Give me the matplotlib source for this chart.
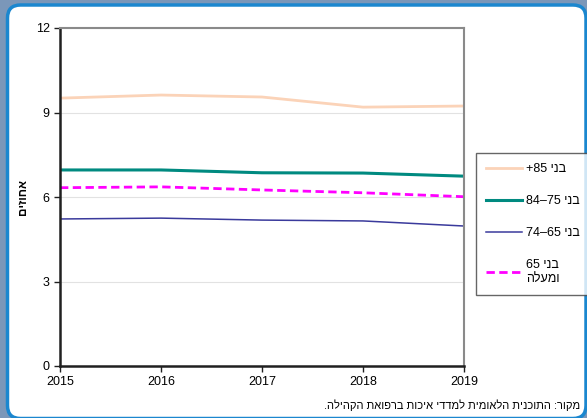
import matplotlib
matplotlib.use("Agg")
import matplotlib.pyplot as plt
from matplotlib.patches import FancyBboxPatch

# נתונים (אחוזים)
years = [2015, 2016, 2017, 2018, 2019]
age_85plus = [9.51, 9.62, 9.55, 9.19, 9.23]
age_75_84 = [6.96, 6.96, 6.86, 6.85, 6.74]
age_65_74 = [5.22, 5.25, 5.18, 5.15, 4.97]
age_65plus = [6.33, 6.36, 6.25, 6.15, 6.01]
yticks = [0, 3, 6, 9, 12]

# matplotlib has no bidi: Hebrew strings written in visual order
lbl_85 = "+85 " + "בני"[::-1]
lbl_75 = "84–75 " + "בני"[::-1]
lbl_65_74 = "74–65 " + "בני"[::-1]
lbl_65 = "65 " + "בני"[::-1] + "\n" + "ומעלה"[::-1]
ylab = "אחוזים"[::-1]
source = "מקור: התוכנית הלאומית למדדי איכות ברפואת הקהילה."[::-1]

plt.rcParams['font.family'] = ['Liberation Sans', 'DejaVu Sans']

fig = plt.figure(figsize=(5.87, 4.18), dpi=100)
fig.patch.set_facecolor('#7b97b9')

# white rounded card (inches)
card = FancyBboxPatch((0.075, -0.005), 5.785, 4.135,
                      boxstyle="round,pad=0,rounding_size=0.13",
                      transform=fig.dpi_scale_trans, facecolor='white',
                      edgecolor='#1b87cf', linewidth=2.5, zorder=-10)
fig.patches.append(card)

ax = fig.add_axes([60/587, 1 - 366/418, (464 - 60)/587, (366 - 28)/418])
ax.set_facecolor('white')

ax.plot(years, age_85plus, color='#fbd3b8', lw=2, label=lbl_85)
ax.plot(years, age_75_84, color='#008a80', lw=2.2, label=lbl_75)
ax.plot(years, age_65_74, color='#3a3a9c', lw=1.1, label=lbl_65_74)
ax.plot(years, age_65plus, color='#ff00ff', lw=2, ls=(0, (3, 1.6)), label=lbl_65)

ax.set_xlim(2015, 2019)
ax.set_ylim(0, 12)
ax.set_yticks(yticks)
ax.set_xticks(years)
ax.grid(axis='y', color='#e2e2e2', lw=0.8)
ax.set_axisbelow(True)

for s in ['top', 'right']:
    ax.spines[s].set_color('#8a8a8a')
    ax.spines[s].set_linewidth(1.5)
for s in ['left', 'bottom']:
    ax.spines[s].set_color('#202020')
    ax.spines[s].set_linewidth(1.8)

ax.tick_params(axis='both', labelsize=9, length=4, width=1, color='#202020')
ax.tick_params(axis='x', pad=3)
ax.set_ylabel(ylab, fontsize=8.5, fontweight='bold', labelpad=5)

leg = ax.legend(loc='upper left', bbox_to_anchor=(476/587, 1 - 153/418),
                bbox_transform=fig.transFigure, frameon=True, fontsize=9,
                handlelength=2.9, handletextpad=0.3, labelspacing=1.6,
                borderpad=0.8, borderaxespad=0, fancybox=False)
leg.get_frame().set_edgecolor('#404040')
leg.get_frame().set_linewidth(1.0)
leg.get_texts()[3].set_multialignment('center')

fig.text(580/587, 1 - 405/418, source, ha='right', va='center', fontsize=8)

fig.savefig('out.png', dpi=100, facecolor=fig.get_facecolor())
